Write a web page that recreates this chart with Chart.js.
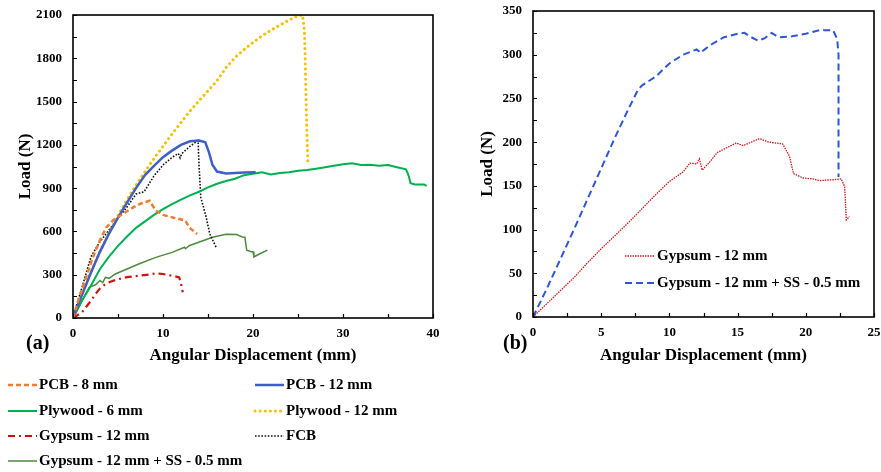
<!DOCTYPE html>
<html>
<head>
<meta charset="utf-8">
<script src="https://cdn.jsdelivr.net/npm/chart.js@4.4.0/dist/chart.umd.min.js"></script>
<style>
  body { margin: 0; background: #fff; }
  #wrap { position: relative; width: 881px; height: 472px; overflow: hidden; }
  #chartA { position: absolute; left: 0; top: 0; }
  #chartB { position: absolute; left: 460px; top: 0; }
</style>
</head>
<body>
<div id="wrap">
  <canvas id="chartA" width="460" height="472"></canvas>
  <canvas id="chartB" width="421" height="372"></canvas>
</div>
<script>
// ---- panel (a): load vs angular displacement, all sheathing types ----
const pcb8X = [0, 0.7, 1.5, 2.2, 3, 3.7, 4.5, 5.5, 6.5, 7.4, 8.5, 9.2, 10, 11, 12.5, 12.9, 13.8];
const pcb8Y = [0, 143, 290, 420, 540, 628, 680, 720, 760, 790, 813, 744, 715, 698, 675, 628, 582];

const pcb12X = [0, 1, 2, 3, 4, 5, 6, 7, 8, 9, 10, 11, 12, 13, 14, 14.7, 15.1, 15.5, 16, 17, 18, 19, 20.3];
const pcb12Y = [0, 160, 315, 460, 585, 695, 800, 900, 990, 1055, 1115, 1160, 1200, 1225, 1230, 1218, 1150, 1060, 1015, 1002, 1005, 1008, 1010];

const ply6X = [0, 1, 2, 3, 4, 5, 6, 7, 8, 9, 10, 11, 12, 13, 14, 15, 16, 17, 18, 19, 20, 21, 22, 23, 24, 25, 26, 27, 28, 29, 30, 31, 32, 33, 34, 35, 36, 37, 37.3, 37.5, 38, 39, 39.3];
const ply6Y = [0, 120, 225, 340, 425, 500, 565, 625, 670, 715, 755, 790, 820, 850, 875, 905, 930, 950, 965, 990, 1000, 1010, 995, 1005, 1010, 1020, 1025, 1035, 1045, 1055, 1065, 1072, 1060, 1062, 1055, 1060, 1045, 1030, 985, 935, 925, 925, 915];

const ply12X = [0, 1, 2, 3, 4, 5, 6, 7, 8, 9, 10, 11, 12, 13, 14, 15, 16, 17, 18, 19, 20, 21, 22, 23, 24, 25, 25.5, 25.7, 25.8, 25.9, 26, 26.1];
const ply12Y = [0, 165, 320, 460, 590, 710, 820, 920, 1015, 1105, 1190, 1275, 1355, 1435, 1505, 1575, 1645, 1735, 1805, 1860, 1910, 1955, 1995, 2030, 2065, 2095, 2100, 2000, 1800, 1500, 1250, 1070];

const gyp12X = [0, 1, 2, 2.5, 3, 3.6, 4.3, 5.1, 6, 7.3, 8.5, 9.2, 10, 11, 11.8, 12, 12.2];
const gyp12Y = [0, 40, 120, 166, 205, 235, 255, 270, 283, 293, 302, 309, 305, 293, 282, 240, 178];

const fcbX = [0, 0.5, 1, 2, 3, 4, 5, 6, 7, 7.9, 9, 10, 11, 11.7, 11.9, 12.1, 13, 13.6, 13.9, 14, 14.2, 14.8, 15.2, 15.9];
const fcbY = [0, 110, 212, 425, 530, 610, 690, 770, 859, 875, 985, 1060, 1113, 1140, 1110, 1140, 1190, 1217, 1230, 1060, 836, 698, 582, 490];

const gypSSX = [0, 1, 1.8, 2.5, 3, 3.3, 3.6, 4, 4.7, 6, 7.3, 9.2, 11, 12.4, 12.5, 12.9, 15.5, 17, 18.2, 18.8, 19.1, 19.3, 19.8, 20, 20.1, 20.6, 21.6];
const gypSSY = [0, 120, 212, 230, 260, 245, 282, 275, 305, 340, 374, 420, 455, 490, 480, 501, 559, 580, 578, 562, 560, 470, 460, 460, 423, 440, 470];

// ---- panel (b): gypsum with / without steel sheet ----
const bGypX = [0, 1, 2, 3, 4, 5, 6, 7, 8, 9, 10, 11, 11.5, 12, 12.2, 12.4, 13, 13.5, 14, 14.9, 15.4, 16, 16.6, 17.3, 18.3, 18.8, 19.1, 19.8, 20.5, 21, 22, 22.6, 22.85, 22.97, 23.2];
const bGypY = [0, 15, 30, 45, 62, 78, 93, 108, 124, 140, 155, 166, 176, 175, 181, 168, 178, 188, 192, 199, 196, 200, 204, 200, 198, 184, 164, 159, 158, 156, 157, 158, 149, 111, 115];

const bGypSSX = [0, 1, 2, 3, 4, 5, 6, 7, 7.7, 8, 9, 10, 11, 12, 12.3, 12.5, 13, 14, 15, 15.5, 16, 16.5, 17, 17.5, 18, 19, 20, 21, 22, 22.3, 22.4, 22.4];
const bGypSSY = [0, 32, 66, 100, 135, 170, 205, 238, 260, 265, 275, 290, 300, 306, 302, 305, 311, 320, 324, 325, 320, 316, 319, 325, 320, 321, 324, 328, 328, 318, 300, 160];

const SERIF = '"Liberation Serif", "Times New Roman", serif';

function pts(xs, ys) {
  return xs.map((x, i) => ({ x: x, y: ys[i] }));
}

function series(label, xs, ys, color, width, dash, cap) {
  return {
    label: label,
    data: pts(xs, ys),
    borderColor: color,
    backgroundColor: color,
    borderWidth: width,
    borderDash: dash || [],
    borderCapStyle: cap || 'butt',
    pointRadius: 0,
    showLine: true,
    tension: 0,
    fill: false
  };
}

// frame, inward ticks, panel tag and the hand-placed legend
const decorPlugin = {
  id: 'decor',
  afterDraw(chart, args, opts) {
    const ctx = chart.ctx;
    const area = chart.chartArea;
    const xs = chart.scales.x;
    const ys = chart.scales.y;
    ctx.save();
    ctx.strokeStyle = '#000';
    ctx.lineWidth = 1.2;
    ctx.setLineDash([]);
    ctx.beginPath();
    xs.ticks.forEach(t => {
      const px = Math.round(xs.getPixelForValue(t.value)) + 0.5;
      ctx.moveTo(px, area.bottom);
      ctx.lineTo(px, area.bottom - 4);
    });
    ys.ticks.forEach(t => {
      const py = Math.round(ys.getPixelForValue(t.value)) + 0.5;
      ctx.moveTo(area.left, py);
      ctx.lineTo(area.left + 4, py);
    });
    ctx.stroke();
    ctx.lineWidth = 1.6;
    ctx.strokeRect(area.left, area.top, area.right - area.left, area.bottom - area.top);

    ctx.fillStyle = '#000';
    ctx.font = 'bold 20px ' + SERIF;
    ctx.textAlign = 'left';
    ctx.textBaseline = 'middle';
    ctx.fillText(opts.tag, opts.tagX, opts.tagY);

    ctx.font = 'bold 15px ' + SERIF;
    chart.data.datasets.forEach((ds, i) => {
      const spot = opts.legend[i];
      ctx.save();
      ctx.strokeStyle = ds.borderColor;
      ctx.lineWidth = ds.borderWidth;
      ctx.lineCap = ds.borderCapStyle;
      ctx.setLineDash(ds.borderDash);
      ctx.beginPath();
      ctx.moveTo(spot[0], spot[1]);
      ctx.lineTo(spot[0] + opts.sample, spot[1]);
      ctx.stroke();
      ctx.restore();
      ctx.fillText(ds.label, spot[0] + opts.sample + 2, spot[1]);
    });
    ctx.restore();
  }
};

function axisFont(size) {
  return { family: SERIF, size: size, weight: 'bold' };
}

function makeChart(canvas, datasets, cfg) {
  return new Chart(canvas, {
    type: 'scatter',
    data: { datasets: datasets },
    plugins: [decorPlugin],
    options: {
      responsive: false,
      animation: false,
      layout: { padding: cfg.padding },
      plugins: {
        legend: { display: false },
        tooltip: { enabled: false },
        decor: cfg.decor
      },
      scales: {
        x: {
          type: 'linear',
          min: 0, max: cfg.xMax,
          // grid lines are hidden; tickLength only sets the label gap
          grid: { display: false, drawTicks: true, tickLength: 8 },
          border: { display: false },
          afterFit: s => { s.height = cfg.xHeight; },
          ticks: {
            stepSize: cfg.xStep,
            autoSkip: false,
            maxRotation: 0,
            padding: 0,
            color: '#000',
            font: axisFont(13),
            callback: v => (v % cfg.xLabelEvery === 0 ? v : '')
          },
          title: {
            display: true,
            text: 'Angular Displacement (mm)',
            color: '#000',
            font: axisFont(17),
            padding: { top: 0, bottom: cfg.xTitlePad }
          }
        },
        y: {
          type: 'linear',
          min: 0, max: cfg.yMax,
          grid: { display: false, drawTicks: true, tickLength: 11 },
          border: { display: false },
          afterFit: s => { s.width = cfg.yWidth; },
          ticks: {
            stepSize: cfg.yStep,
            autoSkip: false,
            padding: 0,
            color: '#000',
            font: axisFont(13),
            callback: v => (v % cfg.yLabelEvery === 0 ? v : '')
          },
          title: {
            display: true,
            text: 'Load (N)',
            color: '#000',
            font: axisFont(17),
            padding: { top: cfg.yTitlePad, bottom: 0 }
          }
        }
      }
    }
  });
}

makeChart(document.getElementById('chartA'), [
  series('PCB - 8 mm', pcb8X, pcb8Y, '#ED7D31', 2.5, [5, 3]),
  series('PCB - 12 mm', pcb12X, pcb12Y, '#3F5FC8', 2.5),
  series('Plywood - 6 mm', ply6X, ply6Y, '#00B050', 2),
  series('Plywood - 12 mm', ply12X, ply12Y, '#F5C000', 3, [0.1, 5], 'round'),
  series('Gypsum - 12 mm', gyp12X, gyp12Y, '#D01010', 2.2, [7, 4, 2, 4]),
  series('FCB', fcbX, fcbY, '#111111', 1.6, [1.6, 1.6]),
  series('Gypsum - 12 mm + SS - 0.5 mm', gypSSX, gypSSY, '#4E8A3C', 1.5)
], {
  padding: { top: 15, right: 27, left: 0, bottom: 0 },
  xMax: 40, xStep: 5, xLabelEvery: 10, xHeight: 154, xTitlePad: 106,
  yMax: 2100, yStep: 150, yLabelEvery: 300, yWidth: 73, yTitlePad: 15,
  decor: {
    tag: '(a)', tagX: 26, tagY: 344, sample: 29,
    legend: [[8, 385], [255, 385], [8, 411], [255, 411], [8, 436], [255, 436], [8, 461]]
  }
});

makeChart(document.getElementById('chartB'), [
  series('Gypsum - 12 mm', bGypX, bGypY, '#C41E1E', 1.3, [1.5, 1]),
  series('Gypsum - 12 mm + SS - 0.5 mm', bGypSSX, bGypSSY, '#2F55D8', 2, [7, 4])
], {
  padding: { top: 11, right: 7, left: 0, bottom: 0 },
  xMax: 25, xStep: 2.5, xLabelEvery: 5, xHeight: 55, xTitlePad: 6,
  yMax: 350, yStep: 25, yLabelEvery: 50, yWidth: 73, yTitlePad: 17,
  decor: {
    tag: '(b)', tagX: 43, tagY: 344, sample: 30,
    legend: [[165, 256], [165, 283]]
  }
});
</script>
</body>
</html>
